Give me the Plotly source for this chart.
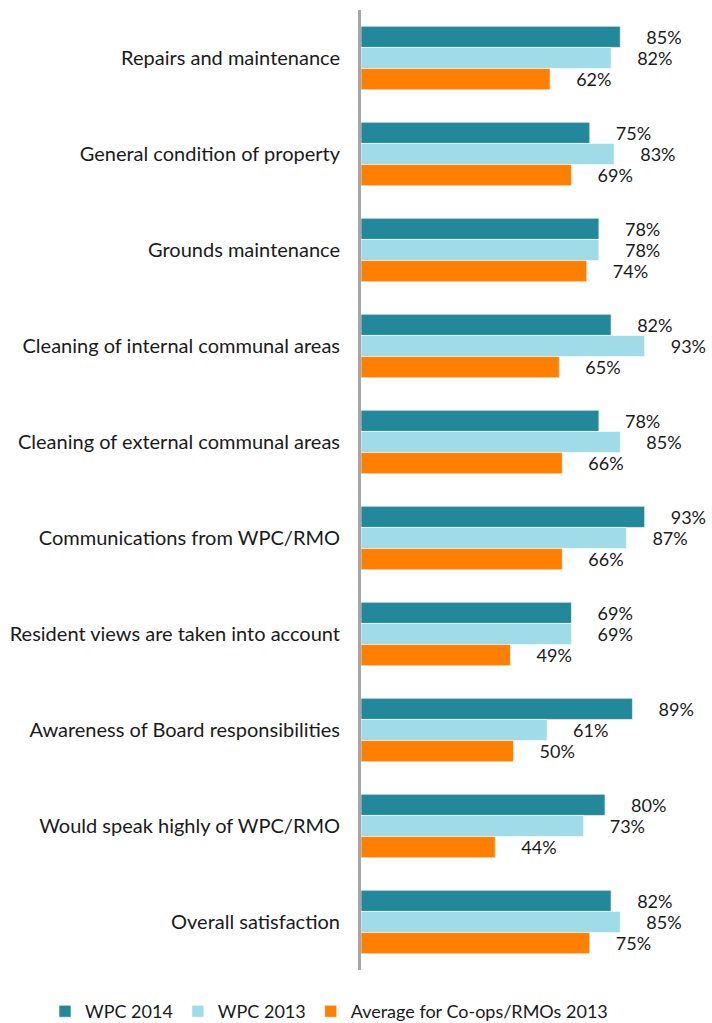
import plotly.graph_objects as go

categories = [
    "Repairs and maintenance",
    "General condition of property",
    "Grounds maintenance",
    "Cleaning of internal communal areas",
    "Cleaning of external communal areas",
    "Communications from WPC/RMO",
    "Resident views are taken into account",
    "Awareness of Board responsibilities",
    "Would speak highly of WPC/RMO",
    "Overall satisfaction",
]
wpc_2014 = [85, 75, 78, 82, 78, 93, 69, 89, 80, 82]
wpc_2013 = [82, 83, 78, 93, 85, 87, 69, 61, 73, 85]
avg_2013 = [62, 69, 74, 65, 66, 66, 49, 50, 44, 75]

series = [
    ("WPC 2014", wpc_2014, "#23889A"),
    ("WPC 2013", wpc_2013, "#A0DCE8"),
    ("Average for Co-ops/RMOs 2013", avg_2013, "#FF7F00"),
]

FONT = "Lato, Open Sans, sans-serif"
pad = "\u00a0" * 5

fig = go.Figure()
for name, vals, color in series:
    fig.add_trace(go.Bar(
        name=name,
        y=categories,
        x=vals,
        orientation="h",
        marker=dict(color=color, line=dict(color="rgba(255,255,255,0.6)", width=1)),
        text=[f"{pad}{v}%" for v in vals],
        textposition="outside",
        constraintext="none",
        cliponaxis=False,
        textfont=dict(family=FONT, size=18, color="#1a1a1a"),
    ))

fig.update_layout(
    width=712, height=1023,
    barmode="group",
    bargap=0.34,
    bargroupgap=0,
    plot_bgcolor="white",
    paper_bgcolor="white",
    margin=dict(l=361, r=46, t=10, b=53, autoexpand=False),
    font=dict(family=FONT, size=18, color="#1a1a1a"),
    xaxis=dict(range=[0, 100], showgrid=False, zeroline=False, showticklabels=False,
               showline=False, ticks=""),
    yaxis=dict(autorange="reversed", showgrid=False, zeroline=False,
               showline=True, linecolor="#A6A6A6", linewidth=3,
               ticks="", ticklabelstandoff=14,
               tickfont=dict(family=FONT, size=20, color="#1a1a1a")),
    legend=dict(orientation="h", x=-1.036, xanchor="left",
                y=-0.024, yanchor="top",
                font=dict(family=FONT, size=18, color="#1a1a1a"),
                itemwidth=30, traceorder="normal"),
    showlegend=True,
)

fig.write_html("out.html")
